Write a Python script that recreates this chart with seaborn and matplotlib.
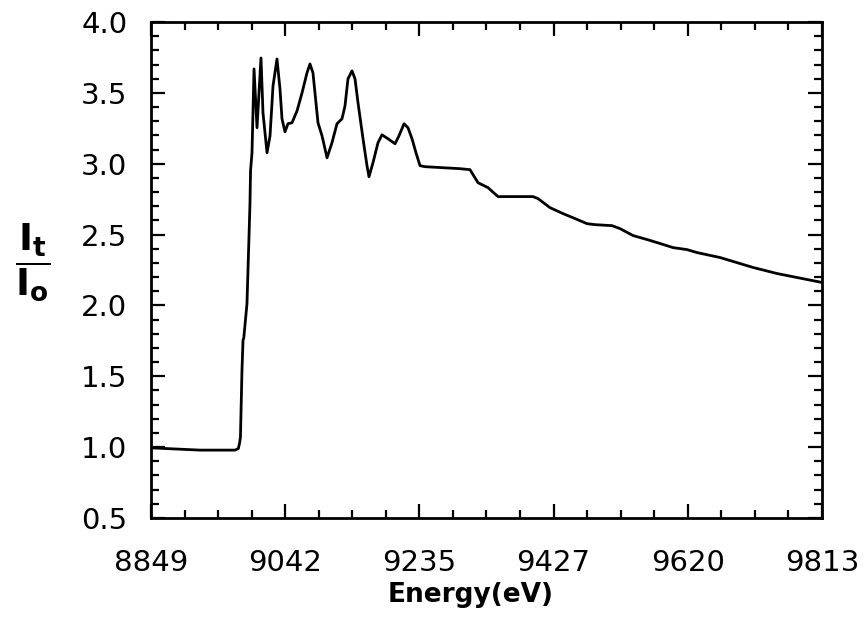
import numpy as np
import pandas as pd
import matplotlib
matplotlib.use("Agg")
import matplotlib.pyplot as plt
import seaborn as sns
from matplotlib.ticker import FixedLocator, AutoMinorLocator

# ---- data ----
energy = [8849, 8919.4, 8969.7, 8974.5, 8976.3, 8977.5, 8979.7, 8981.2, 8982.3, 8986.9,
          8991.2, 8992.0, 8994.1, 8997.0, 9001.3, 9007.0, 9009.9, 9015.7, 9020.0,
          9024.3, 9030.0, 9034.3, 9037.2, 9041.5, 9045.8, 9051.6, 9058.8, 9066.0,
          9073.1, 9077.4, 9081.7, 9088.9, 9094.7, 9101.9, 9109.0, 9116.2, 9123.4,
          9127.7, 9132.0, 9137.8, 9142.1, 9146.4, 9153.6, 9159.3, 9162.2, 9167.9,
          9175.1, 9180.9, 9189.5, 9199.6, 9205.3, 9212.5, 9218.2, 9224.0, 9229.7,
          9235.5, 9242.7, 9292.9, 9307.3, 9318.8, 9333.2, 9347.5, 9364.8, 9397.8,
          9405.0, 9422.2, 9440.9, 9458.1, 9475.4, 9486.9, 9511.3, 9522.8, 9541.5,
          9561.6, 9580.3, 9599.0, 9619.1, 9633.4, 9666.5, 9713.9, 9748.4, 9762.8, 9813]
ratio = [0.995, 0.979, 0.979, 0.99, 1.03, 1.07, 1.542, 1.754, 1.77, 2.014,
         2.718, 2.95, 3.077, 3.669, 3.254, 3.746, 3.359, 3.077, 3.197,
         3.549, 3.739, 3.528, 3.317, 3.225, 3.282, 3.289, 3.373, 3.500,
         3.641, 3.704, 3.641, 3.289, 3.197, 3.042, 3.148, 3.282, 3.317,
         3.408, 3.599, 3.655, 3.599, 3.430, 3.176, 2.986, 2.908, 3.007,
         3.148, 3.204, 3.176, 3.141, 3.197, 3.282, 3.254, 3.176, 3.077,
         2.986, 2.979, 2.965, 2.958, 2.866, 2.831, 2.768, 2.768, 2.768,
         2.754, 2.690, 2.648, 2.613, 2.577, 2.570, 2.563, 2.542, 2.493,
         2.465, 2.437, 2.408, 2.394, 2.373, 2.338, 2.268, 2.225, 2.211, 2.162]

x_tick_labels = ["8849", "9042", "9235", "9427", "9620", "9813"]
y_ticks = [0.5, 1.0, 1.5, 2.0, 2.5, 3.0, 3.5, 4.0]

df = pd.DataFrame({"Energy": energy, "Ratio": ratio})

sns.set_style("ticks")
plt.rcParams["font.family"] = ["DejaVu Sans"]
plt.rcParams["mathtext.fontset"] = "dejavusans"
plt.rcParams["text.color"] = "black"
plt.rcParams["axes.labelcolor"] = "black"
plt.rcParams["xtick.color"] = "black"
plt.rcParams["ytick.color"] = "black"

fig = plt.figure(figsize=(8.67, 6.2), dpi=100)
ax = fig.add_axes([151/867, 1-518/620, 671/867, 496/620])

sns.lineplot(data=df, x="Energy", y="Ratio", ax=ax, color="black",
             linewidth=2.0, sort=False, estimator=None)

ax.set_xlim(8849, 9813)
ax.set_ylim(0.5, 4.0)
xt = np.linspace(8849, 9813, len(x_tick_labels))
ax.xaxis.set_major_locator(FixedLocator(xt))
ax.set_xticklabels(x_tick_labels)
ax.set_yticks(y_ticks)
ax.set_yticklabels([f"{v:.1f}" for v in y_ticks])
ax.xaxis.set_minor_locator(AutoMinorLocator(4))
ax.yaxis.set_minor_locator(AutoMinorLocator(5))

ax.tick_params(which="both", direction="in", top=True, right=True,
               width=1.6, color="black", labelcolor="black")
ax.tick_params(which="major", length=10)
ax.tick_params(which="minor", length=5.5)
ax.tick_params(axis="x", which="major", pad=22, labelsize=21)
ax.tick_params(axis="y", which="major", pad=17, labelsize=21)
for s in ax.spines.values():
    s.set_linewidth(2.0)
    s.set_color("black")

ax.set_xlabel("Energy(eV)", fontsize=19, fontweight="bold", color="black")
ax.xaxis.set_label_coords(0.477, -0.156)
ax.xaxis.label.set_va("center")
ax.set_ylabel(r"$\dfrac{\mathbf{I}_{\mathbf{t}}}{\mathbf{I}_{\mathbf{o}}}$",
              fontsize=27, rotation=0, color="black")
ax.yaxis.set_label_coords(-0.176, 0.516)
ax.yaxis.label.set_va("center")
ax.yaxis.label.set_ha("center")

fig.savefig("out.png", dpi=100)
